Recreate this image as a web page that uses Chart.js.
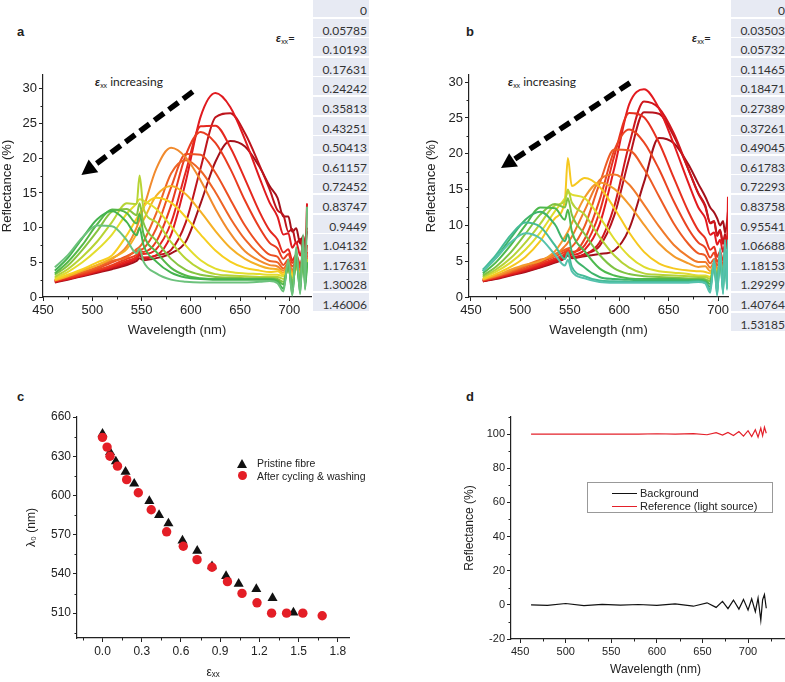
<!DOCTYPE html>
<html>
<head>
<meta charset="utf-8">
<script src="https://cdn.jsdelivr.net/npm/chart.js@4.4.1/dist/chart.umd.min.js"></script>
<style>
body { margin: 0; width: 785px; height: 682px; overflow: hidden; background: #fff; position: relative; font-family: 'Liberation Sans', Arial, sans-serif; color: #222; }
canvas { position: absolute; }
.letter { position: absolute; font: bold 13px 'Liberation Sans', Arial, sans-serif; line-height: 16px; }
.note { position: absolute; font: 12px Lato, sans-serif; line-height: 16px; white-space: nowrap; }
.note sub, .epsl sub { font-size: 7px; vertical-align: -2px; }
.epsl { position: absolute; font: 12px Lato, sans-serif; line-height: 16px; }
.eps-table { position: absolute; top: 0; width: 56px; height: 340px; }
.eps-table div { position: absolute; left: 0; width: 56px; height: 18px; background: #e7eaf3; font: 12px Lato, sans-serif; line-height: 24px; text-align: right; box-sizing: border-box; padding-right: 2px; color: #333; }
.legend { position: absolute; font: 10.5px 'Liberation Sans', Arial, sans-serif; line-height: 14px; white-space: nowrap; }
.legbox { position: absolute; border: 1px solid #999; box-sizing: border-box; }
.legline { position: absolute; height: 1.3px; }
</style>
</head>
<body>

<div class="letter" style="left:17px;top:24px">a</div>
<div class="letter" style="left:466px;top:24px">b</div>
<div class="letter" style="left:17px;top:389px">c</div>
<div class="letter" style="left:466px;top:389px">d</div>

<div class="epsl" style="left:276px;top:30px"><b><i>ε</i></b><sub>xx</sub>=</div>
<div class="epsl" style="left:692px;top:30px"><b><i>ε</i></b><sub>xx</sub>=</div>
<div class="note" style="left:95px;top:74px"><b><i>ε</i></b><sub>xx</sub> increasing</div>
<div class="note" style="left:508px;top:74px"><b><i>ε</i></b><sub>xx</sub> increasing</div>

<div class="eps-table" id="tableA" style="left:313px"></div>
<div class="eps-table" id="tableB" style="left:731px"></div>

<canvas id="chartA" width="320" height="290" style="left:0;top:60px"></canvas>
<canvas id="chartB" width="320" height="290" style="left:420px;top:60px"></canvas>
<canvas id="chartC" width="360" height="282" style="left:0;top:400px"></canvas>
<canvas id="chartD" width="360" height="282" style="left:440px;top:400px"></canvas>

<!-- legend c -->
<div style="position:absolute;left:237px;top:459px;width:0;height:0;border-left:5px solid transparent;border-right:5px solid transparent;border-bottom:9px solid #111"></div>
<div class="legend" style="left:257px;top:456px">Pristine fibre</div>
<div style="position:absolute;left:238px;top:471px;width:9px;height:9px;border-radius:50%;background:#e41e26"></div>
<div class="legend" style="left:257px;top:469px">After cycling &amp; washing</div>

<!-- legend d -->
<div class="legbox" style="left:587px;top:482px;width:186px;height:31px"></div>
<div class="legline" style="left:612px;top:493px;width:25px;background:#111"></div>
<div class="legend" style="left:640px;top:486px;font-size:11px">Background</div>
<div class="legline" style="left:612px;top:506px;width:25px;background:#e4202a"></div>
<div class="legend" style="left:640px;top:499px;font-size:11px">Reference (light source)</div>

<script>
// strain values listed next to panels a and b
const EPS_A = [0, 0.05785, 0.10193, 0.17631, 0.24242, 0.35813, 0.43251, 0.50413, 0.61157, 0.72452, 0.83747, 0.9449, 1.04132, 1.17631, 1.30028, 1.46006];
const EPS_B = [0, 0.03503, 0.05732, 0.11465, 0.18471, 0.27389, 0.37261, 0.49045, 0.61783, 0.72293, 0.83758, 0.95541, 1.06688, 1.18153, 1.29299, 1.40764, 1.53185];

// panel a spectra (reflectance %)
const WL_A = [462, 475, 490, 505, 520, 535, 545, 548, 552, 565, 580, 595, 610, 625, 640, 655, 670, 680, 688, 694, 699, 703, 707, 711, 714, 716, 718];
const SPECTRA_A = [
	[2.1, 2.5, 3.0, 3.5, 4.0, 4.6, 5.2, 5.6, 5.3, 5.6, 6.3, 8.0, 13.5, 19.5, 22.5, 21.7, 18.7, 16.0, 14.3, 11.6, 11.6, 9.4, 9.9, 7.7, 8.8, 7.2, 9.5],
	[2.2, 2.6, 3.1, 3.6, 4.2, 4.8, 5.5, 6.0, 5.5, 6.0, 6.8, 10.8, 18.6, 25.9, 26.5, 23.6, 18.9, 15.5, 12.5, 11.8, 9.4, 9.8, 7.7, 8.4, 6.6, 8.0, 10.0],
	[2.2, 2.6, 3.1, 3.7, 4.3, 5.0, 5.6, 6.2, 5.7, 6.0, 9.0, 16.7, 26.0, 29.4, 27.4, 22.7, 17.1, 13.6, 11.6, 9.0, 9.2, 7.1, 7.9, 6.0, 7.2, 6.4, 13.5],
	[2.3, 2.7, 3.2, 3.8, 4.4, 5.2, 5.8, 6.4, 6.2, 6.9, 10.7, 18.1, 24.6, 24.7, 21.6, 17.0, 12.2, 9.6, 8.3, 6.4, 6.9, 5.3, 6.1, 4.7, 5.8, 4.6, 7.5],
	[2.3, 2.8, 3.3, 3.9, 4.6, 5.5, 6.1, 6.6, 6.5, 8.0, 13.2, 20.5, 23.8, 22.2, 18.5, 13.9, 9.9, 7.8, 7.0, 5.5, 6.2, 4.9, 5.6, 4.5, 5.4, 4.6, 6.5],
	[2.4, 2.9, 3.5, 4.1, 5.0, 5.9, 6.6, 6.8, 7.0, 9.9, 15.8, 20.6, 20.5, 17.9, 14.1, 10.3, 7.4, 6.1, 5.8, 4.6, 5.4, 4.4, 5.2, 4.2, 5.0, 4.3, 6.0],
	[2.4, 3.0, 3.6, 4.3, 5.2, 5.7, 6.9, 7.2, 8.0, 12.1, 17.8, 19.7, 18.2, 15.1, 11.4, 8.3, 6.1, 5.2, 5.0, 4.1, 4.9, 3.9, 4.8, 3.8, 4.7, 4.0, 5.6],
	[2.5, 3.1, 3.8, 4.6, 5.5, 7.3, 10.0, 11.2, 12.8, 18.5, 21.5, 20.1, 16.8, 12.7, 9.2, 6.6, 5.2, 4.6, 4.4, 3.8, 4.6, 3.7, 4.5, 3.6, 4.6, 3.8, 5.2],
	[2.4, 3.0, 3.8, 4.6, 5.6, 6.9, 9.1, 10.0, 11.1, 14.6, 16.0, 14.8, 12.3, 9.5, 7.1, 5.5, 4.5, 4.1, 4.0, 3.5, 4.3, 3.4, 4.4, 3.4, 4.6, 3.6, 5.0],
	[2.5, 3.2, 4.0, 5.0, 6.0, 8.9, 11.3, 12.0, 13.0, 14.3, 13.6, 11.5, 9.0, 6.7, 5.1, 4.2, 3.8, 3.6, 3.7, 3.2, 4.1, 3.1, 4.2, 3.2, 4.5, 3.4, 5.0],
	[2.7, 3.6, 5.0, 6.8, 9.0, 12.0, 13.5, 14.1, 13.9, 12.7, 10.2, 7.4, 5.3, 4.1, 3.6, 3.4, 3.3, 3.2, 3.2, 3.0, 4.0, 2.8, 4.4, 3.0, 5.0, 3.6, 5.5],
	[2.9, 4.0, 5.8, 8.0, 10.8, 13.5, 13.4, 17.5, 12.8, 10.8, 7.9, 5.5, 4.0, 3.3, 3.1, 3.0, 2.9, 2.9, 2.9, 2.6, 4.0, 2.2, 4.6, 2.4, 5.4, 3.0, 5.5],
	[3.2, 4.5, 6.8, 9.5, 12.3, 12.7, 11.8, 13.5, 10.7, 8.1, 5.5, 3.9, 3.2, 2.9, 2.8, 2.7, 2.7, 2.7, 2.6, 2.2, 4.2, 1.6, 5.0, 1.8, 6.0, 2.4, 5.0],
	[3.4, 5.0, 7.5, 10.5, 12.6, 12.1, 10.6, 12.0, 9.1, 6.5, 4.2, 3.1, 2.7, 2.6, 2.6, 2.6, 2.6, 2.6, 2.4, 1.8, 4.6, 1.0, 5.8, 1.2, 7.0, 1.8, 5.0],
	[3.8, 5.6, 8.5, 11.2, 12.4, 10.8, 8.9, 10.0, 7.5, 5.1, 3.5, 2.8, 2.6, 2.5, 2.5, 2.5, 2.5, 2.5, 2.2, 1.2, 5.0, 0.4, 6.5, 0.6, 8.0, 1.2, 5.0],
	[4.3, 6.0, 8.6, 10.3, 10.2, 8.2, 6.3, 7.0, 5.1, 3.4, 2.5, 2.2, 2.1, 2.1, 2.1, 2.1, 2.2, 2.3, 2.0, 0.8, 5.4, 0.2, 7.2, 0.4, 9.0, 1.0, 13.0]
];
const COLORS_A = ['#a3101a', '#be141c', '#e01a1f', '#e5281f', '#e93c20', '#ec4f22', '#ee6426', '#f18a2d', '#f5b025', '#f6cf20', '#e2dd2d', '#b7d435', '#86c440', '#55b848', '#44b34e', '#6cc27c'];

// panel b spectra
const WL_B = [462, 475, 490, 505, 520, 535, 545, 548, 552, 565, 580, 595, 610, 625, 640, 655, 670, 680, 687, 692, 696, 699, 702, 705, 707, 709, 710];
const SPECTRA_B = [
	[2.2, 2.5, 3.0, 3.5, 4.1, 4.8, 5.4, 5.8, 5.4, 5.7, 6.0, 6.5, 9.5, 16.0, 22.2, 21.5, 18.5, 15.8, 14.0, 12.5, 11.8, 11.0, 10.0, 10.6, 9.0, 10.5, 12.0],
	[2.2, 2.6, 3.1, 3.6, 4.2, 4.9, 5.5, 6.0, 5.5, 6.0, 7.1, 11.4, 19.3, 25.8, 25.6, 22.5, 17.8, 14.5, 12.8, 10.4, 10.6, 8.7, 9.4, 7.5, 8.8, 7.2, 9.5],
	[2.2, 2.6, 3.1, 3.7, 4.3, 5.0, 5.6, 6.1, 5.6, 5.9, 7.6, 12.7, 21.3, 27.3, 26.4, 22.9, 17.8, 14.4, 12.6, 10.3, 10.5, 8.5, 9.2, 7.4, 8.4, 7.0, 9.0],
	[2.3, 2.7, 3.2, 3.8, 4.4, 5.2, 5.8, 6.3, 5.9, 6.6, 10.1, 18.0, 26.9, 29.0, 26.4, 21.4, 15.9, 12.5, 11.0, 8.7, 9.0, 7.3, 8.0, 6.3, 7.4, 6.8, 14.0],
	[2.3, 2.7, 3.3, 3.9, 4.6, 5.4, 6.0, 6.6, 6.3, 7.2, 11.8, 19.7, 25.7, 25.1, 21.6, 16.7, 11.9, 9.3, 8.2, 6.6, 7.0, 5.6, 6.4, 5.1, 6.0, 5.0, 7.0],
	[2.3, 2.8, 3.4, 4.0, 4.8, 5.7, 6.3, 6.6, 6.1, 8.1, 13.5, 20.5, 23.4, 21.6, 17.9, 13.4, 9.5, 7.6, 6.9, 5.5, 6.2, 4.9, 5.6, 4.5, 5.3, 4.4, 6.0],
	[2.4, 2.9, 3.5, 4.2, 5.0, 6.0, 6.6, 6.8, 7.0, 9.9, 15.8, 20.6, 20.5, 17.9, 14.1, 10.3, 7.4, 6.1, 5.8, 4.7, 5.3, 4.4, 5.1, 4.3, 5.0, 4.2, 5.6],
	[2.4, 2.9, 3.6, 4.4, 5.2, 5.8, 7.1, 7.6, 8.4, 12.1, 16.3, 17.1, 15.7, 12.9, 9.9, 7.3, 5.6, 4.9, 4.9, 4.1, 4.8, 3.9, 4.7, 3.8, 4.6, 3.9, 5.2],
	[2.5, 3.0, 3.8, 4.5, 5.0, 6.4, 8.4, 9.1, 10.3, 13.9, 16.0, 15.1, 12.9, 10.1, 7.5, 5.7, 4.7, 4.2, 4.3, 3.6, 4.4, 3.5, 4.4, 3.5, 4.3, 3.6, 5.0],
	[2.5, 3.2, 4.2, 5.6, 7.8, 11.0, 13.5, 19.4, 15.5, 16.6, 15.4, 12.4, 9.0, 6.3, 4.7, 4.0, 3.7, 3.6, 3.5, 3.3, 4.6, 3.2, 5.0, 3.5, 5.6, 4.0, 6.5],
	[2.7, 3.5, 4.8, 6.6, 9.0, 12.0, 13.8, 14.6, 14.3, 13.8, 11.2, 8.1, 5.7, 4.2, 3.6, 3.4, 3.2, 3.0, 3.0, 2.8, 4.2, 2.7, 4.6, 3.0, 5.4, 3.6, 6.0],
	[2.8, 3.8, 5.4, 7.6, 10.2, 12.8, 13.4, 15.0, 13.2, 11.5, 8.4, 5.8, 4.1, 3.3, 3.1, 3.0, 2.9, 2.8, 2.8, 2.5, 4.2, 2.3, 4.8, 2.6, 5.6, 3.2, 6.5],
	[3.0, 4.2, 6.2, 8.8, 11.5, 13.0, 12.5, 13.8, 11.5, 8.8, 5.9, 4.0, 3.2, 2.9, 2.8, 2.7, 2.6, 2.6, 2.5, 2.2, 4.4, 1.8, 5.2, 2.0, 6.0, 2.6, 7.0],
	[3.3, 4.8, 7.2, 10.0, 12.5, 12.4, 10.8, 12.2, 9.2, 6.4, 4.0, 3.0, 2.6, 2.5, 2.5, 2.5, 2.4, 2.4, 2.3, 1.8, 4.6, 1.4, 5.6, 1.6, 6.6, 2.2, 7.0],
	[3.6, 5.4, 8.2, 10.8, 11.9, 10.1, 7.8, 8.8, 6.3, 4.1, 2.8, 2.5, 2.4, 2.3, 2.3, 2.3, 2.3, 2.3, 2.1, 1.4, 4.8, 0.8, 6.0, 1.0, 7.0, 1.6, 7.5],
	[3.8, 5.8, 8.6, 10.4, 9.8, 7.2, 5.3, 6.2, 4.2, 2.9, 2.3, 2.2, 2.1, 2.1, 2.1, 2.1, 2.1, 2.2, 2.0, 1.0, 5.0, 0.4, 6.4, 0.6, 7.6, 1.2, 8.0],
	[3.6, 5.4, 7.6, 8.9, 8.2, 5.9, 4.4, 5.2, 3.6, 2.6, 2.1, 2.0, 2.0, 2.0, 2.0, 2.0, 2.0, 2.1, 1.9, 0.6, 5.2, 0.2, 6.8, 0.4, 8.0, 1.0, 8.0]
];
const COLORS_B = ['#a3101a', '#b8131c', '#cf171d', '#e31a1f', '#e7301f', '#ea4421', '#ed5a24', '#f07a2a', '#f39a2c', '#f6c81f', '#dedc2e', '#b5d337', '#7fc342', '#4db94d', '#3fb46a', '#44bb97', '#55c2ad'];

// panel c: peak wavelength vs strain
const LAMBDA_PRISTINE = [647.2, 633.1, 626, 618, 609, 595.7, 585, 578.6, 565.5, 557.6, 545.8, 538.4, 532.5, 528.4, 521.5, 510.5];
const EPS_WASHED = EPS_B.concat([1.68]);
const LAMBDA_WASHED = [644.4, 637, 630, 622.4, 612.1, 602.1, 589.1, 572.2, 561.2, 550.9, 545.1, 534.1, 525.1, 517.9, 510, 510, 510, 508];

// panel d: background and reference spectra
const WL_D = [462, 480, 500, 520, 540, 560, 580, 600, 620, 640, 655, 665, 672, 678, 684, 690, 695, 700, 704, 708, 711, 714, 716, 718, 720];
const BACKGROUND_D = [0, -0.3, 0.8, -0.5, 0.3, -0.2, 0.2, -0.3, 0.6, -0.8, 1.2, -1.5, 2.0, -2.2, 2.8, -2.5, 3.2, -3.0, 3.5, -4.0, 4.0, -9.0, 3.0, 6.0, -2.0];
const REFERENCE_D = [100, 100, 100, 100, 100, 100, 100, 100.2, 100, 100.3, 99.6, 100.8, 99.4, 101.0, 99.2, 101.5, 98.8, 102.0, 98.5, 102.5, 98.2, 103.5, 99.0, 104.0, 100.5];

Chart.defaults.font.family = "'Liberation Sans', Arial, sans-serif";
Chart.defaults.color = '#222';

function buildTable(id, values) {
	const el = document.getElementById(id);
	values.forEach((v, i) => {
		const d = document.createElement('div');
		d.textContent = String(v);
		d.style.top = (i * 19.6 - 1) + 'px';
		el.appendChild(d);
	});
}
buildTable('tableA', EPS_A);
buildTable('tableB', EPS_B);

// small outward ticks between the labelled ones
const minorTicks = {
	id: 'minorTicks',
	afterDraw(chart, args, opts) {
		const ctx = chart.ctx;
		ctx.save();
		ctx.strokeStyle = '#222';
		ctx.lineWidth = 1;
		for (const id in opts.steps) {
			const sc = chart.scales[id];
			const step = opts.steps[id];
			const k0 = Math.ceil(sc.min / step - 1e-6);
			for (let k = k0; k * step <= sc.max + 1e-9; k++) {
				const v = k * step;
				if (sc.ticks.some(t => Math.abs(t.value - v) < step / 10)) continue;
				const p = Math.round(sc.getPixelForValue(v)) + 0.5;
				ctx.beginPath();
				if (sc.isHorizontal()) {
					ctx.moveTo(p, sc.top);
					ctx.lineTo(p, sc.top + 2.5);
				} else {
					ctx.moveTo(sc.right, p);
					ctx.lineTo(sc.right - 2.5, p);
				}
				ctx.stroke();
			}
		}
		ctx.restore();
	}
};

// thick dashed arrow, ends given in data units
const dashArrow = {
	id: 'dashArrow',
	afterDatasetsDraw(chart, args, opts) {
		if (!opts.from) return;
		const xs = chart.scales.x, ys = chart.scales.y;
		const x0 = xs.getPixelForValue(opts.from[0]), y0 = ys.getPixelForValue(opts.from[1]);
		const x1 = xs.getPixelForValue(opts.to[0]), y1 = ys.getPixelForValue(opts.to[1]);
		const ang = Math.atan2(y1 - y0, x1 - x0);
		const headLen = 15, headW = 8;
		const bx = x1 - Math.cos(ang) * headLen, by = y1 - Math.sin(ang) * headLen;
		const ctx = chart.ctx;
		ctx.save();
		ctx.strokeStyle = '#000';
		ctx.fillStyle = '#000';
		ctx.lineWidth = 5.5;
		ctx.setLineDash([12, 6]);
		ctx.beginPath();
		ctx.moveTo(x0, y0);
		ctx.lineTo(bx, by);
		ctx.stroke();
		ctx.setLineDash([]);
		ctx.beginPath();
		ctx.moveTo(x1, y1);
		ctx.lineTo(bx + Math.sin(ang) * headW, by - Math.cos(ang) * headW);
		ctx.lineTo(bx - Math.sin(ang) * headW, by + Math.cos(ang) * headW);
		ctx.closePath();
		ctx.fill();
		ctx.restore();
	}
};

function axis(min, max, step, title, size, titlePad, tickFont, titleFont, fmt) {
	return {
		type: 'linear',
		min: min,
		max: max,
		afterFit: s => { if (s.isHorizontal()) s.height = size; else s.width = size; },
		border: { color: '#222', width: 1.2 },
		grid: { drawOnChartArea: false, tickLength: 4, color: '#222', lineWidth: 1 },
		ticks: { stepSize: step, includeBounds: false, autoSkip: false, maxRotation: 0, padding: 2, color: '#222', font: { size: tickFont }, callback: fmt || (v => String(v)) },
		title: { display: true, text: title, color: '#222', font: { size: titleFont }, padding: titlePad }
	};
}

function spectraDatasets(wl, spectra, colors) {
	return spectra.map((vals, i) => ({
		data: wl.map((x, j) => ({ x: x, y: vals[j] })),
		borderColor: colors[i],
		borderWidth: 2,
		pointRadius: 0,
		cubicInterpolationMode: 'monotone',
		order: spectra.length - i
	}));
}

function baseOptions(padding, scales, plugins) {
	return {
		responsive: false,
		animation: false,
		devicePixelRatio: 1,
		layout: { padding: padding },
		scales: scales,
		plugins: Object.assign({ legend: { display: false }, tooltip: { enabled: false } }, plugins)
	};
}

new Chart(document.getElementById('chartA'), {
	type: 'line',
	data: { datasets: spectraDatasets(WL_A, SPECTRA_A, COLORS_A) },
	options: baseOptions({ top: 15, right: 9, left: 0, bottom: 0 }, {
		x: axis(450, 722, 50, 'Wavelength (nm)', 53, { top: 0, bottom: 12 }, 13, 13),
		y: axis(0, 32, 5, 'Reflectance (%)', 43, { top: 0, bottom: 0 }, 13, 13)
	}, {
		minorTicks: { steps: { x: 25, y: 2.5 } },
		dashArrow: { from: [602, 29.6], to: [489, 17.6] }
	}),
	plugins: [minorTicks, dashArrow]
});

new Chart(document.getElementById('chartB'), {
	type: 'line',
	data: { datasets: spectraDatasets(WL_B, SPECTRA_B, COLORS_B) },
	options: baseOptions({ top: 15, right: 12, left: 0, bottom: 0 }, {
		x: axis(448, 710, 50, 'Wavelength (nm)', 53, { top: 0, bottom: 12 }, 13, 13),
		y: axis(0, 31, 5, 'Reflectance (%)', 49, { top: 4, bottom: 0 }, 13, 13)
	}, {
		minorTicks: { steps: { x: 25, y: 2.5 } },
		dashArrow: { from: [610.8, 29.9], to: [480.4, 18.0] }
	}),
	plugins: [minorTicks, dashArrow]
});

new Chart(document.getElementById('chartC'), {
	type: 'scatter',
	data: {
		datasets: [
			{
				label: 'After cycling & washing',
				data: EPS_WASHED.map((x, i) => ({ x: x, y: LAMBDA_WASHED[i] })),
				pointStyle: 'circle',
				pointRadius: 4.7,
				backgroundColor: '#e41e26',
				borderColor: '#e41e26',
				borderWidth: 0,
				order: 0
			},
			{
				label: 'Pristine fibre',
				data: EPS_A.map((x, i) => ({ x: x, y: LAMBDA_PRISTINE[i] })),
				pointStyle: 'triangle',
				pointRadius: 5.8,
				backgroundColor: '#111',
				borderColor: '#111',
				borderWidth: 0,
				order: 1
			}
		]
	},
	options: baseOptions({ top: 17, right: 11, left: 0, bottom: 0 }, {
		x: axis(-0.195, 1.885, 0.3, 'εₓₓ', 44, { top: 0, bottom: 2 }, 12, 12, v => v.toFixed(1)),
		y: axis(491, 660, 30, 'λ₀ (nm)', 77, { top: 24, bottom: 0 }, 12, 12)
	}, {
		minorTicks: { steps: { x: 0.15, y: 15 } }
	}),
	plugins: [minorTicks]
});

new Chart(document.getElementById('chartD'), {
	type: 'line',
	data: {
		datasets: [
			{ label: 'Background', data: WL_D.map((x, i) => ({ x: x, y: BACKGROUND_D[i] })), borderColor: '#111', borderWidth: 1.2, pointRadius: 0, tension: 0 },
			{ label: 'Reference (light source)', data: WL_D.map((x, i) => ({ x: x, y: REFERENCE_D[i] })), borderColor: '#e4202a', borderWidth: 1.2, pointRadius: 0, tension: 0 }
		]
	},
	options: baseOptions({ top: 17, right: 0, left: 0, bottom: 0 }, {
		x: axis(440, 757, 50, 'Wavelength (nm)', 43, { top: 0, bottom: 5 }, 11, 12, v => (v > 740 ? '' : String(v))),
		y: axis(-20, 110, 20, 'Reflectance (%)', 71, { top: 22, bottom: 0 }, 11, 12)
	}, {
		minorTicks: { steps: { x: 25, y: 10 } }
	}),
	plugins: [minorTicks]
});
</script>
</body>
</html>
